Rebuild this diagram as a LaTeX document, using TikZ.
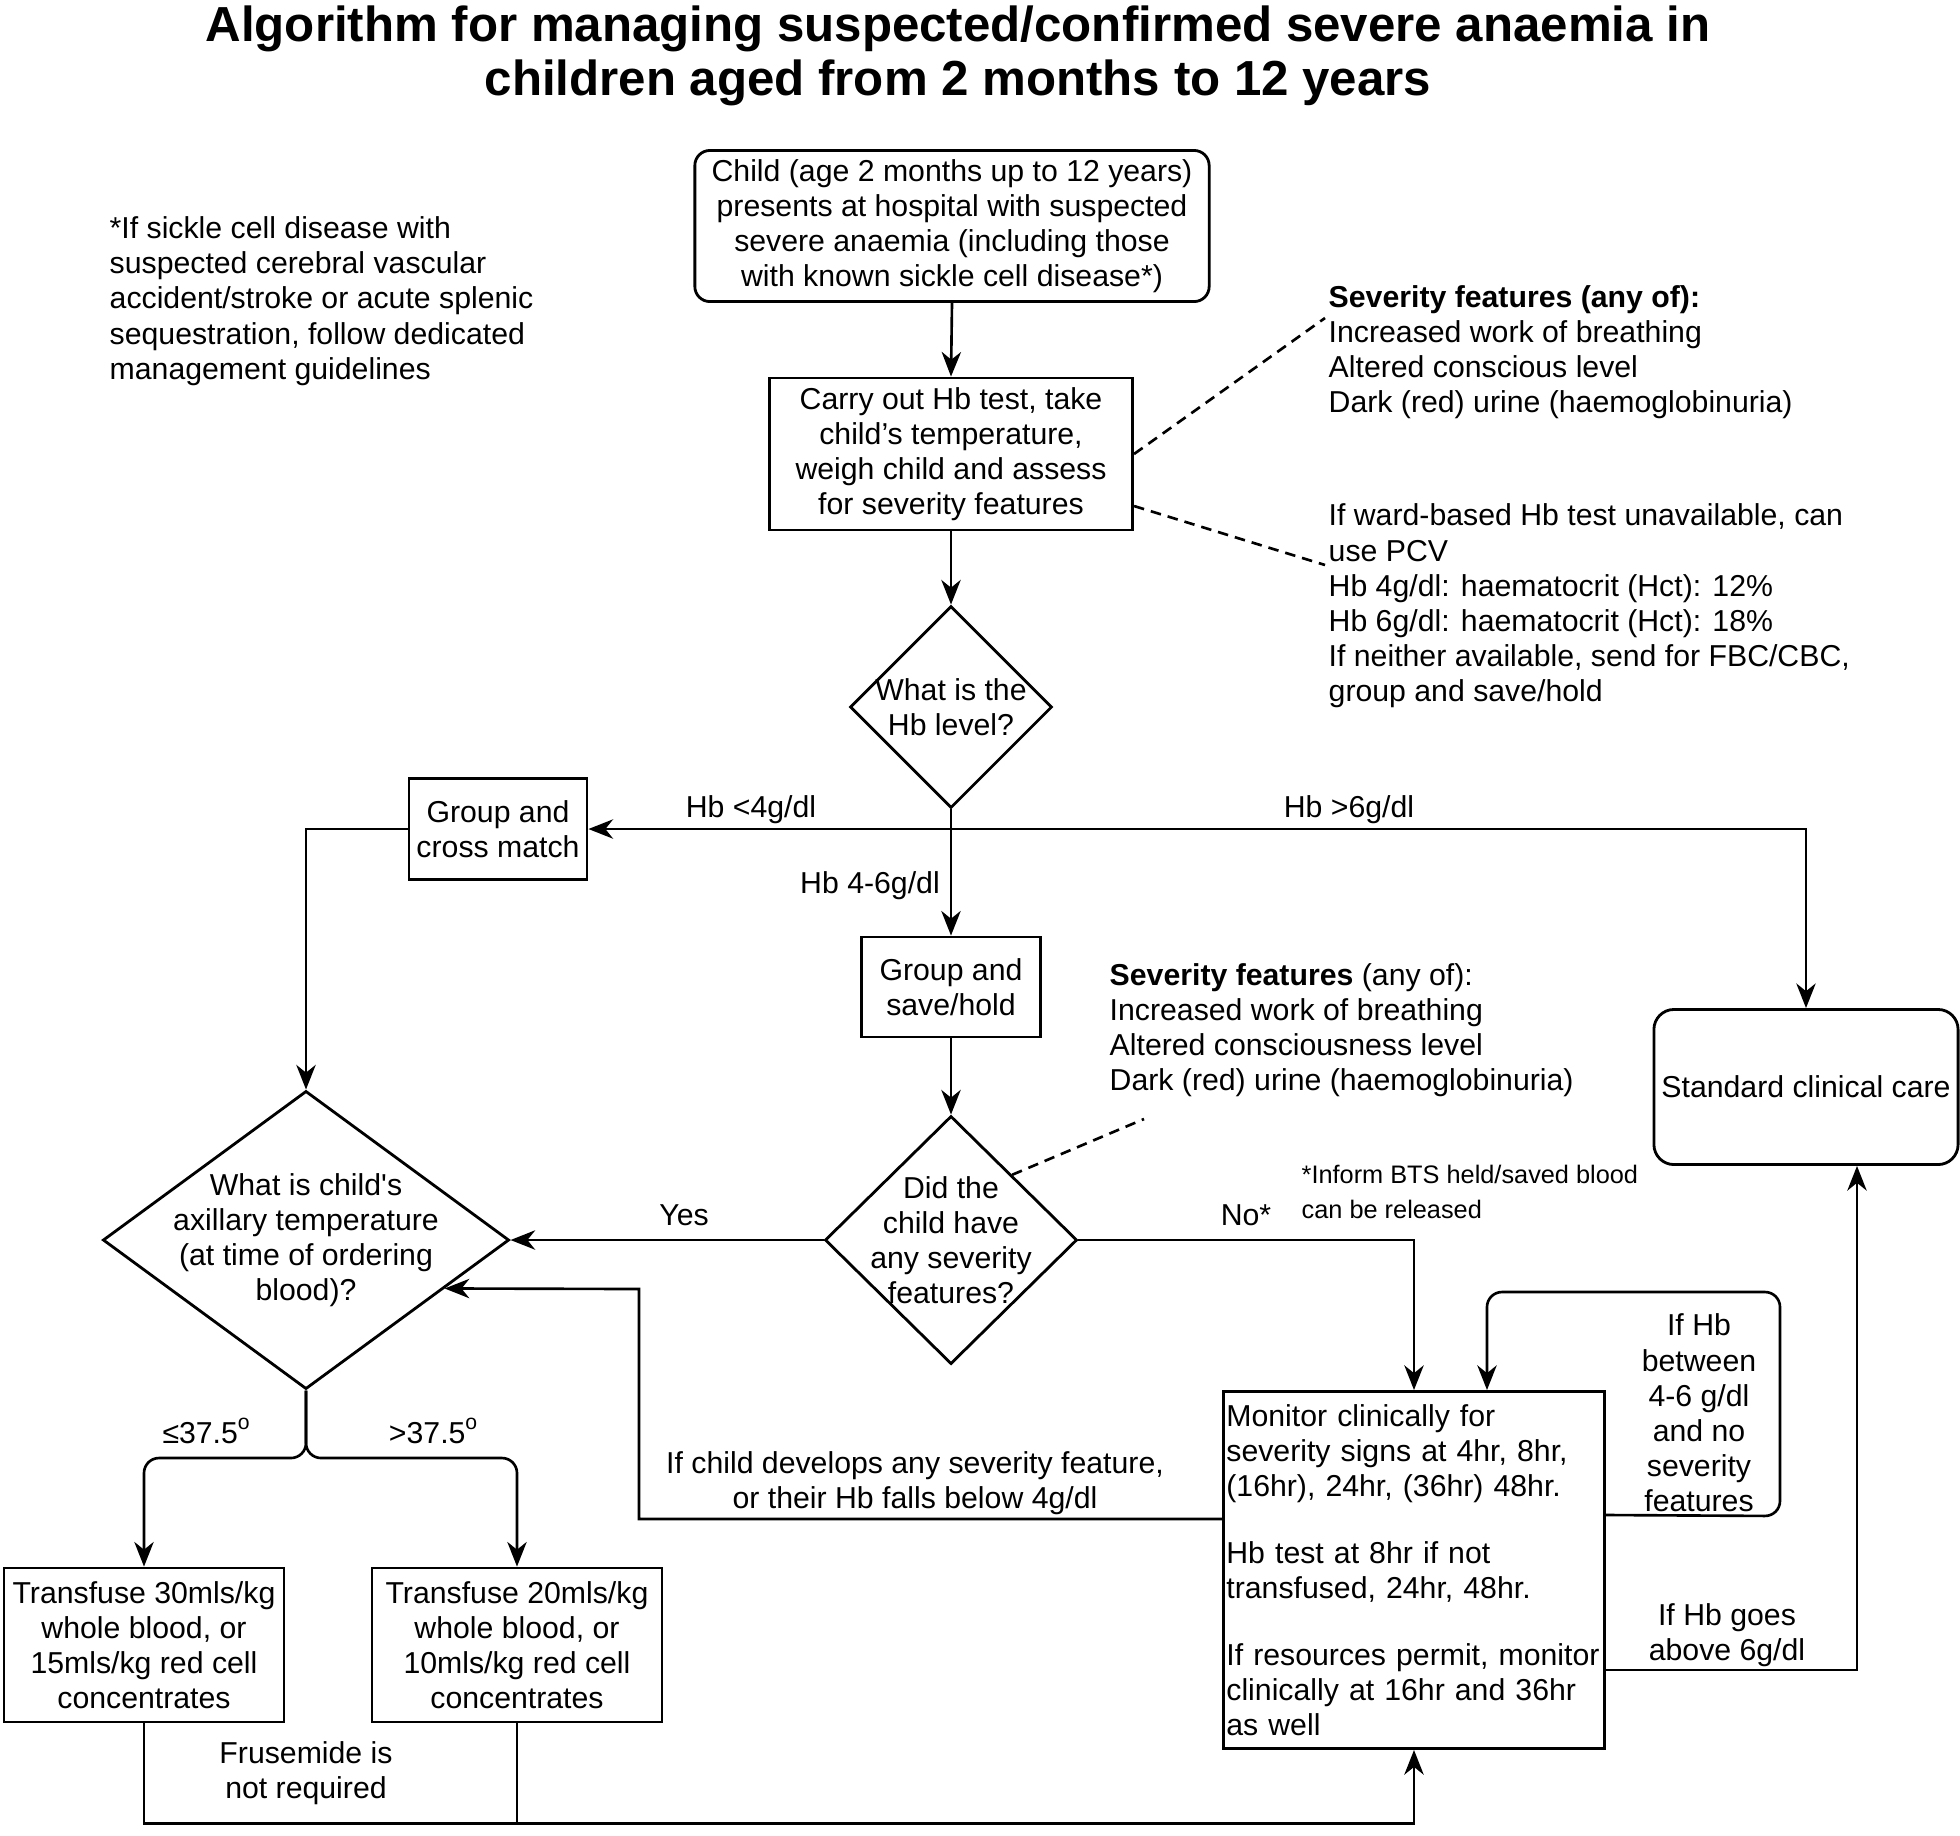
\documentclass[tikz,border=0pt]{standalone}
\usepackage{fontspec}
\setmainfont{Liberation Sans}
\usetikzlibrary{shapes.geometric,arrows.meta,calc}
\tikzset{
  txt/.style={font=\fontsize{8.6pt}{10pt}\selectfont, inner sep=0pt, align=center},
  box/.style={draw, line width=0.8pt, inner sep=2pt, align=center, font=\fontsize{8.6pt}{10pt}\selectfont},
  dia/.style={draw, diamond, line width=0.8pt, inner sep=0pt},
  ln/.style={line width=0.75pt},
  arr/.style={line width=0.75pt, -{Stealth[length=7pt,width=5.5pt,inset=2.2pt]}},
  dsh/.style={line width=0.75pt, dash pattern=on 3pt off 2pt},
}
\begin{document}
\begin{tikzpicture}[x=0.01cm,y=-0.01cm]
\useasboundingbox (0,0) rectangle (1960,1835);

\node[txt, font=\fontsize{14pt}{15.5pt}\selectfont\bfseries] (title) at (958,56)
  {Algorithm for managing suspected/confirmed severe anaemia in\\children aged from 2 months to 12 years};

\node[txt, align=left, anchor=west] (note) at (109,301)
  {*If sickle cell disease with\\suspected cerebral vascular\\accident/stroke or acute splenic\\sequestration, follow dedicated\\management guidelines};

\node[box, rounded corners=0.15cm, minimum width=5.14cm, minimum height=1.51cm] (start) at (952,226)
  {Child (age 2 months up to 12 years)\\presents at hospital with suspected\\severe anaemia (including those\\with known sickle cell disease*)};

\node[box, minimum width=3.63cm, minimum height=1.52cm] (cb) at (951,454)
  {Carry out Hb test, take\\child’s temperature,\\weigh child and assess\\for severity features};

\node[txt, align=left, anchor=west] (sev1) at (1328,352)
  {\textbf{Severity features (any of):}\\Increased work of breathing\\Altered conscious level\\Dark (red) urine (haemoglobinuria)};

\node[txt, align=left, anchor=west] (pcv) at (1328,606)
  {If ward-based Hb test unavailable, can\\use PCV\\Hb 4g/dl: haematocrit (Hct): 12\%\\Hb 6g/dl: haematocrit (Hct): 18\%\\If neither available, send for FBC/CBC,\\group and save/hold};

\coordinate (s1end) at (1325,318);
\coordinate (s2end) at (1325,565);
\draw[dsh] (cb.east) -- (s1end);
\draw[dsh] ($(cb.east)+(0,52)$) -- (s2end);

\node[dia, minimum width=2.02cm, minimum height=2.02cm] (d1) at (951,707) {};
\node[txt] (d1t) at (951,707) {What is the\\Hb level?};

\draw[arr] (start.south) -- (cb.north);
\draw[arr] (cb.south) -- (d1.north);

\node[box, minimum width=1.78cm, minimum height=1.01cm] (gcm) at (498,829) {Group and\\cross match};
\node[box, minimum width=1.79cm, minimum height=1.00cm] (gsh) at (951,987) {Group and\\save/hold};
\node[box, rounded corners=0.2cm, minimum width=3.04cm, minimum height=1.55cm] (scc) at (1806,1087) {Standard clinical care};

\coordinate (j1) at (951,829);
\draw[ln] (d1.south) -- (j1);
\draw[arr] (j1) -- (gcm.east);
\draw[arr] (j1) -| (scc.north);
\draw[arr] (j1) -- (gsh.north);

\node[txt] (lb4) at (751,810) {Hb <4g/dl};
\node[txt] (lb6) at (1349,810) {Hb >6g/dl};
\node[txt] (lb46) at (870,886) {Hb 4-6g/dl};

\node[dia, minimum width=2.52cm, minimum height=2.48cm] (d3) at (951,1240) {};
\node[txt] (d3t) at (951,1240) {Did the\\child have\\any severity\\features?};
\draw[arr] (gsh.south) -- (d3.north);

\node[txt, align=left, anchor=west] (sev2) at (1109,1030)
  {\textbf{Severity features} (any of):\\Increased work of breathing\\Altered consciousness level\\Dark (red) urine (haemoglobinuria)};
\coordinate (s3end) at (1144,1119);
\draw[dsh] ($(d3.north)!0.48!(d3.east)$) -- (s3end);

\node[dia, minimum width=4.06cm, minimum height=2.98cm] (d2) at (306,1240) {};
\node[txt] (d2t) at (306,1240) {What is child\textquotesingle s\\axillary temperature\\(at time of ordering\\blood)?};
\draw[arr] (gcm.west) -| (d2.north);
\draw[arr] (d3.west) -- (d2.east);
\node[txt] (yes) at (684,1215) {Yes};

\node[box, align=left, text width=3.75cm, inner xsep=0.03cm, minimum height=3.57cm] (mon) at (1414,1570)
  {Monitor clinically for\\severity signs at 4hr, 8hr,\\(16hr), 24hr, (36hr) 48hr.\\[9pt]Hb test at 8hr if not\\transfused, 24hr, 48hr.\\[9pt]If resources permit, monitor\\clinically at 16hr and 36hr\\as well};

\draw[arr] (d3.east) -| (mon.north);
\node[txt] (no) at (1246,1215) {No*};
\node[txt, align=left, anchor=west, font=\fontsize{7.2pt}{10pt}\selectfont] (bts) at (1301,1192)
  {*Inform BTS held/saved blood\\can be released};

\coordinate (dvtip) at ($(d2.east)!0.322!(d2.south)$);
\draw[arr] ($(mon.north west)+(0,129)$) -| (639,1289) -- (dvtip);
\node[txt] (dev) at (915,1483) {If child develops any severity feature,\\or their Hb falls below 4g/dl};

\draw[arr, rounded corners=0.15cm] ($(mon.north east)+(0,125)$) -- (1780,1516) -- (1780,1292) -- (1487,1292) -- ($(mon.north)+(73,0)$);
\node[txt] (btw) at (1699,1413) {If Hb\\between\\4-6 g/dl\\and no\\severity\\features};

\draw[arr] ($(mon.north east)+(0,280)$) -| ($(scc.south)+(51,0)$);
\node[txt] (abv) at (1727,1635) {If Hb goes\\above 6g/dl};

\node[box, minimum width=2.80cm, minimum height=1.54cm] (t1) at (144,1645)
  {Transfuse 30mls/kg\\whole blood, or\\15mls/kg red cell\\concentrates};
\node[box, minimum width=2.90cm, minimum height=1.54cm] (t2) at (517,1645)
  {Transfuse 20mls/kg\\whole blood, or\\10mls/kg red cell\\concentrates};

\coordinate (tj) at (306,1458);
\draw[arr, rounded corners=0.15cm] (d2.south) -- (tj) -| (t1.north);
\draw[arr, rounded corners=0.15cm] (d2.south) -- (tj) -| (t2.north);
\node[txt] (le) at (207,1431) {≤37.5\textsuperscript{o}};
\node[txt] (gt) at (434,1431) {>37.5\textsuperscript{o}};

\draw[arr] (t1.south) -- ++(0,100) -| (mon.south);
\draw[ln] (t2.south) -- ++(0,100);
\node[txt] (fru) at (306,1773) {Frusemide is\\not required};

\end{tikzpicture}
\end{document}
